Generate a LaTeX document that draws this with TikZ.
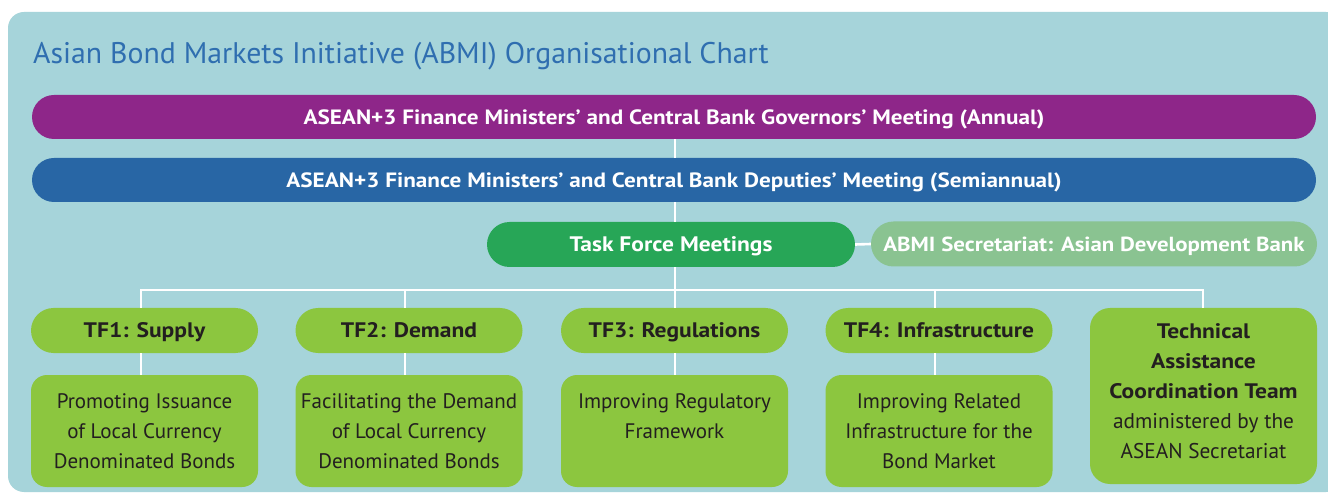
\documentclass[tikz,border=0pt]{standalone}
\usepackage{fontspec}
\setmainfont{PT Sans}
\newfontfamily\wideface[FakeStretch=1.12, Ligatures=TeX]{PT Sans Bold}
\definecolor{bgblue}{HTML}{A6D4DA}
\definecolor{titleblue}{HTML}{2F6EB0}
\definecolor{purplebar}{HTML}{8E2689}
\definecolor{bluebar}{HTML}{2866A5}
\definecolor{tfgreen}{HTML}{27A657}
\definecolor{sage}{HTML}{8AC391}
\definecolor{lime}{HTML}{8CC63F}
\definecolor{darktext}{HTML}{231F20}
\begin{document}
\begin{tikzpicture}[x=1pt,y=-1pt,
  capcenter/.style={text height=18pt, text depth=3.5pt},
  bar/.style={capcenter, rounded corners=22pt, minimum width=1284pt, minimum height=44pt, inner sep=0pt,
    text=white, font=\fontsize{20.7}{24}\wideface},
  pill/.style={capcenter, rounded corners=22.5pt, minimum height=45pt, inner sep=0pt,
    text=white, font=\fontsize{21}{24}\wideface},
  tfbox/.style={capcenter, fill=lime, rounded corners=22.5pt, minimum width=227pt, minimum height=45pt, inner sep=0pt,
    text=darktext, font=\fontsize{21}{24}\wideface},
  descbox/.style={fill=lime, rounded corners=16pt, minimum width=227pt, minimum height=112pt, inner sep=0pt,
    text=darktext, align=center, font=\fontsize{21}{30}\selectfont},
  link/.style={draw=white, line width=2.6pt}
]
\useasboundingbox (0,0) rectangle (1328,494);
\fill[white] (0,0) rectangle (1328,494);
\fill[bgblue, rounded corners=16pt] (8,12) rectangle (1342,492);

\node[anchor=base west, text=titleblue, font=\fontsize{29.8}{32}\selectfont, inner sep=0pt] (title) at (33,64) {Asian Bond Markets Initiative (ABMI) Organisational Chart};

\coordinate (top) at (675,139);
\coordinate (busL) at (141,290);
\coordinate (busR) at (1203,290);
\coordinate (busM) at (675,290);

\node[bar, fill=purplebar] (fm) at (674,117) {ASEAN+3 Finance Ministers’ and Central Bank Governors’ Meeting (Annual)};
\node[bar, fill=bluebar] (dm) at (674,180) {ASEAN+3 Finance Ministers’ and Central Bank Deputies’ Meeting (Semiannual)};

\node[pill, fill=tfgreen, minimum width=368pt] (tfm) at (671,244.5) {Task Force Meetings};
\node[pill, fill=sage, minimum width=446pt, font=\fontsize{20.4}{24}\wideface] (abmi) at (1094,244) {ABMI Secretariat: Asian Development Bank};

\node[tfbox] (tf1) at (144.5,330.5) {TF1: Supply};
\node[tfbox] (tf2) at (409,330.5) {TF2: Demand};
\node[tfbox] (tf3) at (674.5,330.5) {TF3: Regulations};
\node[tfbox] (tf4) at (939,330.5) {TF4: Infrastructure};

\node[descbox] (d1) at (144.5,431) {Promoting Issuance\\of Local Currency\\Denominated Bonds};
\node[descbox] (d2) at (409,431) {Facilitating the Demand\\of Local Currency\\Denominated Bonds};
\node[descbox] (d3) at (674.5,431) {Improving Regulatory\\Framework\\\mbox{}};
\node[descbox] (d4) at (939,431) {Improving Related\\Infrastructure for the\\Bond Market};

\node[fill=lime, rounded corners=20pt, minimum width=227pt, minimum height=176pt, inner sep=0pt,
  text=darktext, align=center, font=\fontsize{21.3}{30}\selectfont, text depth=9pt] (ta) at (1203.5,396)
  {{\fontsize{21}{30}\wideface Technical}\\{\fontsize{21}{30}\wideface Assistance}\\{\fontsize{21}{30}\wideface Coordination Team}\\administered by the\\ASEAN Secretariat};

% connectors
\draw[link] (fm.south -| top) -- (dm.north -| top);
\draw[link] (dm.south -| top) -- (tfm.north -| top);
\draw[link] (tfm.south -| top) -- (busM);
\draw[link] (tfm.east) -- (abmi.west);
\draw[link] (tf1.north -| busL) -- (busL) -- (busR) -- (ta.north -| busR);
\draw[link] (tf2.north -| 405,0) -- (405,290);
\draw[link] (tf3.north -| 675,0) -- (675,290);
\draw[link] (tf4.north -| 935,0) -- (935,290);
\draw[link] (tf1.south -| busL) -- (d1.north -| busL);
\draw[link] (tf2.south -| 405,0) -- (d2.north -| 405,0);
\draw[link] (tf3.south -| 675,0) -- (d3.north -| 675,0);
\draw[link] (tf4.south -| 935,0) -- (d4.north -| 935,0);
\end{tikzpicture}
\end{document}
